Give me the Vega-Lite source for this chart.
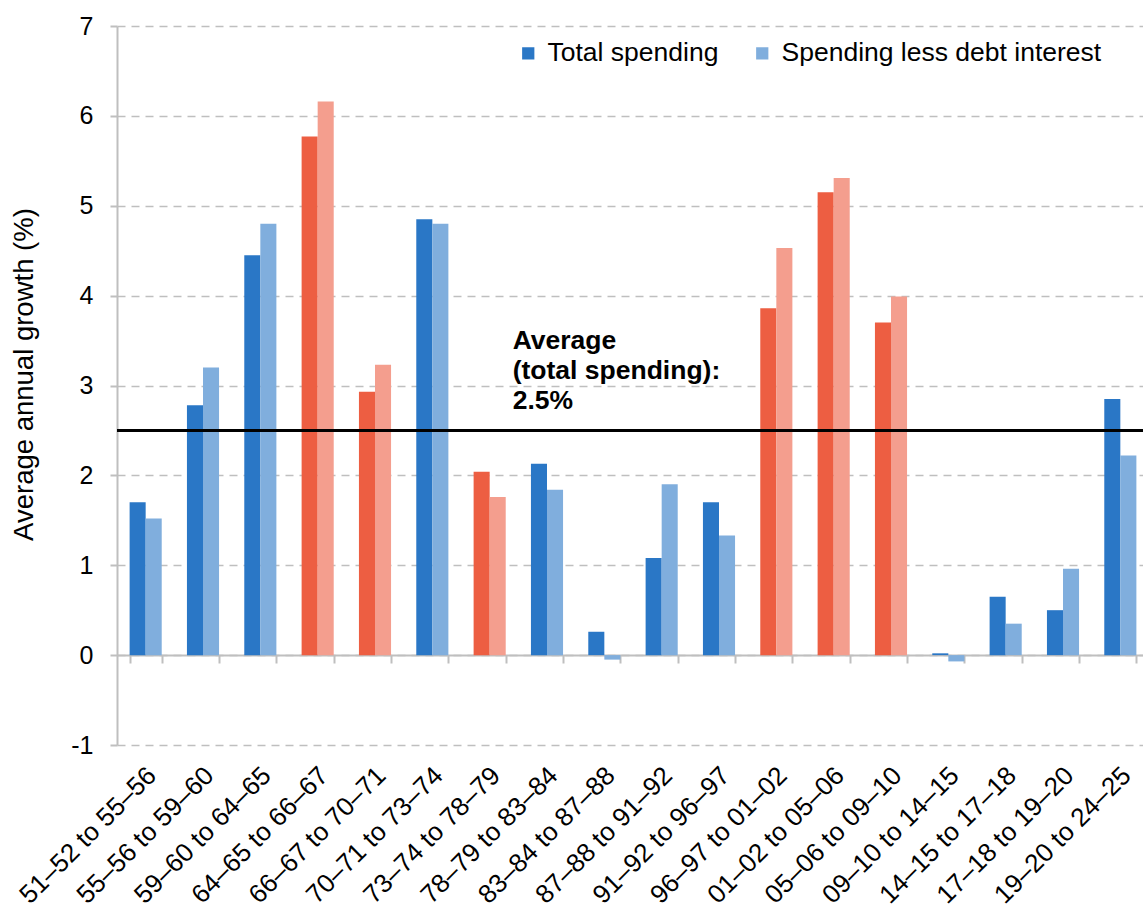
{
  "$schema": "https://vega.github.io/schema/vega-lite/v6.json",
  "width": 1032,
  "height": 719,
  "autosize": {"type": "none"},
  "padding": {"left": 117, "top": 26, "right": 0, "bottom": 166},
  "background": "white",
  "config": {
    "view": {"stroke": null},
    "font": "Liberation Sans",
    "axis": {"labelColor": "#000000", "titleColor": "#000000", "labelFont": "Liberation Sans", "titleFont": "Liberation Sans"},
    "legend": {"labelFont": "Liberation Sans"}
  },
  "data": {
    "values": [
      {"period": "51–52 to 55–56", "govt": "Conservative", "series": "Total spending", "growth": 1.70},
      {"period": "51–52 to 55–56", "govt": "Conservative", "series": "Spending less debt interest", "growth": 1.52},
      {"period": "55–56 to 59–60", "govt": "Conservative", "series": "Total spending", "growth": 2.78},
      {"period": "55–56 to 59–60", "govt": "Conservative", "series": "Spending less debt interest", "growth": 3.20},
      {"period": "59–60 to 64–65", "govt": "Conservative", "series": "Total spending", "growth": 4.45},
      {"period": "59–60 to 64–65", "govt": "Conservative", "series": "Spending less debt interest", "growth": 4.80},
      {"period": "64–65 to 66–67", "govt": "Labour", "series": "Total spending", "growth": 5.77},
      {"period": "64–65 to 66–67", "govt": "Labour", "series": "Spending less debt interest", "growth": 6.16},
      {"period": "66–67 to 70–71", "govt": "Labour", "series": "Total spending", "growth": 2.93},
      {"period": "66–67 to 70–71", "govt": "Labour", "series": "Spending less debt interest", "growth": 3.23},
      {"period": "70–71 to 73–74", "govt": "Conservative", "series": "Total spending", "growth": 4.85},
      {"period": "70–71 to 73–74", "govt": "Conservative", "series": "Spending less debt interest", "growth": 4.80},
      {"period": "73–74 to 78–79", "govt": "Labour", "series": "Total spending", "growth": 2.04},
      {"period": "73–74 to 78–79", "govt": "Labour", "series": "Spending less debt interest", "growth": 1.76},
      {"period": "78–79 to 83–84", "govt": "Conservative", "series": "Total spending", "growth": 2.13},
      {"period": "78–79 to 83–84", "govt": "Conservative", "series": "Spending less debt interest", "growth": 1.84},
      {"period": "83–84 to 87–88", "govt": "Conservative", "series": "Total spending", "growth": 0.26},
      {"period": "83–84 to 87–88", "govt": "Conservative", "series": "Spending less debt interest", "growth": -0.05},
      {"period": "87–88 to 91–92", "govt": "Conservative", "series": "Total spending", "growth": 1.08},
      {"period": "87–88 to 91–92", "govt": "Conservative", "series": "Spending less debt interest", "growth": 1.90},
      {"period": "91–92 to 96–97", "govt": "Conservative", "series": "Total spending", "growth": 1.70},
      {"period": "91–92 to 96–97", "govt": "Conservative", "series": "Spending less debt interest", "growth": 1.33},
      {"period": "96–97 to 01–02", "govt": "Labour", "series": "Total spending", "growth": 3.86},
      {"period": "96–97 to 01–02", "govt": "Labour", "series": "Spending less debt interest", "growth": 4.53},
      {"period": "01–02 to 05–06", "govt": "Labour", "series": "Total spending", "growth": 5.15},
      {"period": "01–02 to 05–06", "govt": "Labour", "series": "Spending less debt interest", "growth": 5.31},
      {"period": "05–06 to 09–10", "govt": "Labour", "series": "Total spending", "growth": 3.70},
      {"period": "05–06 to 09–10", "govt": "Labour", "series": "Spending less debt interest", "growth": 3.99},
      {"period": "09–10 to 14–15", "govt": "Conservative", "series": "Total spending", "growth": 0.02},
      {"period": "09–10 to 14–15", "govt": "Conservative", "series": "Spending less debt interest", "growth": -0.07},
      {"period": "14–15 to 17–18", "govt": "Conservative", "series": "Total spending", "growth": 0.65},
      {"period": "14–15 to 17–18", "govt": "Conservative", "series": "Spending less debt interest", "growth": 0.35},
      {"period": "17–18 to 19–20", "govt": "Conservative", "series": "Total spending", "growth": 0.50},
      {"period": "17–18 to 19–20", "govt": "Conservative", "series": "Spending less debt interest", "growth": 0.96},
      {"period": "19–20 to 24–25", "govt": "Conservative", "series": "Total spending", "growth": 2.85},
      {"period": "19–20 to 24–25", "govt": "Conservative", "series": "Spending less debt interest", "growth": 2.22}
    ]
  },
  "transform": [{"calculate": "datum.govt + '|' + datum.series", "as": "key"}],
  "encoding": {
    "x": {
      "field": "period",
      "type": "nominal",
      "sort": null,
      "scale": {"paddingInner": 0.44, "paddingOuter": 0.22},
      "axis": {
        "title": null,
        "offset": -90,
        "domainColor": "#bfbfbf",
        "domainWidth": 2,
        "tickColor": "#bfbfbf",
        "tickWidth": 2,
        "tickSize": 8,
        "tickBand": "extent",
        "labelAngle": -45,
        "labelAlign": "right",
        "labelBaseline": "middle",
        "labelFontSize": 26,
        "labelPadding": 108,
        "labelOffset": 6,
        "labelLimit": 400,
        "grid": false
      }
    }
  },
  "layer": [
    {
      "mark": {"type": "bar"},
      "encoding": {
        "xOffset": {"field": "series", "type": "nominal", "sort": ["Total spending", "Spending less debt interest"]},
        "y": {
          "field": "growth",
          "type": "quantitative",
          "scale": {"domain": [-1, 7], "nice": false},
          "axis": {
            "title": "Average annual growth (%)",
            "titleFontSize": 27.5,
            "titleFontWeight": "normal",
            "titleX": -93,
            "titleY": 348,
            "titleBaseline": "middle",
            "values": [-1, 0, 1, 2, 3, 4, 5, 6, 7],
            "labelExpr": "'' + datum.value",
            "labelFontSize": 25,
            "labelPadding": 17,
            "tickSize": 7,
            "tickColor": "#bfbfbf",
            "tickWidth": 2,
            "domainColor": "#bfbfbf",
            "domainWidth": 2,
            "gridColor": "#bfbfbf",
            "gridWidth": 1.5,
            "gridDash": [8, 6]
          }
        },
        "color": {
          "field": "key",
          "type": "nominal",
          "scale": {
            "domain": ["Conservative|Total spending", "Conservative|Spending less debt interest", "Labour|Total spending", "Labour|Spending less debt interest"],
            "range": ["#2a77c6", "#80aedd", "#ed5e42", "#f49e8e"]
          },
          "legend": {
            "title": null,
            "values": ["Conservative|Total spending", "Conservative|Spending less debt interest"],
            "labelExpr": "split(datum.label, '|')[1]",
            "orient": "none",
            "legendX": 398,
            "legendY": 14,
            "direction": "horizontal",
            "symbolType": "square",
            "symbolSize": 150,
            "symbolStrokeWidth": 0,
            "labelFontSize": 26.5,
            "labelLimit": 500,
            "labelColor": "#000000",
            "labelOffset": 6,
            "columnPadding": 30
          }
        }
      }
    },
    {
      "data": {"values": [{"avg": 2.5}]},
      "mark": {"type": "rule", "color": "#000000", "strokeWidth": 3},
      "encoding": {"y": {"field": "avg", "type": "quantitative"}, "x": null}
    },
    {
      "data": {"values": [{"period": "73–74 to 78–79", "pos": 3.405}]},
      "mark": {"type": "text", "align": "left", "baseline": "alphabetic", "fontSize": 26.5, "fontWeight": "bold", "lineHeight": 30, "dx": 23, "color": "#000000"},
      "encoding": {
        "y": {"field": "pos", "type": "quantitative"},
        "text": {"value": ["Average", "(total spending):", "2.5%"]}
      }
    }
  ]
}
